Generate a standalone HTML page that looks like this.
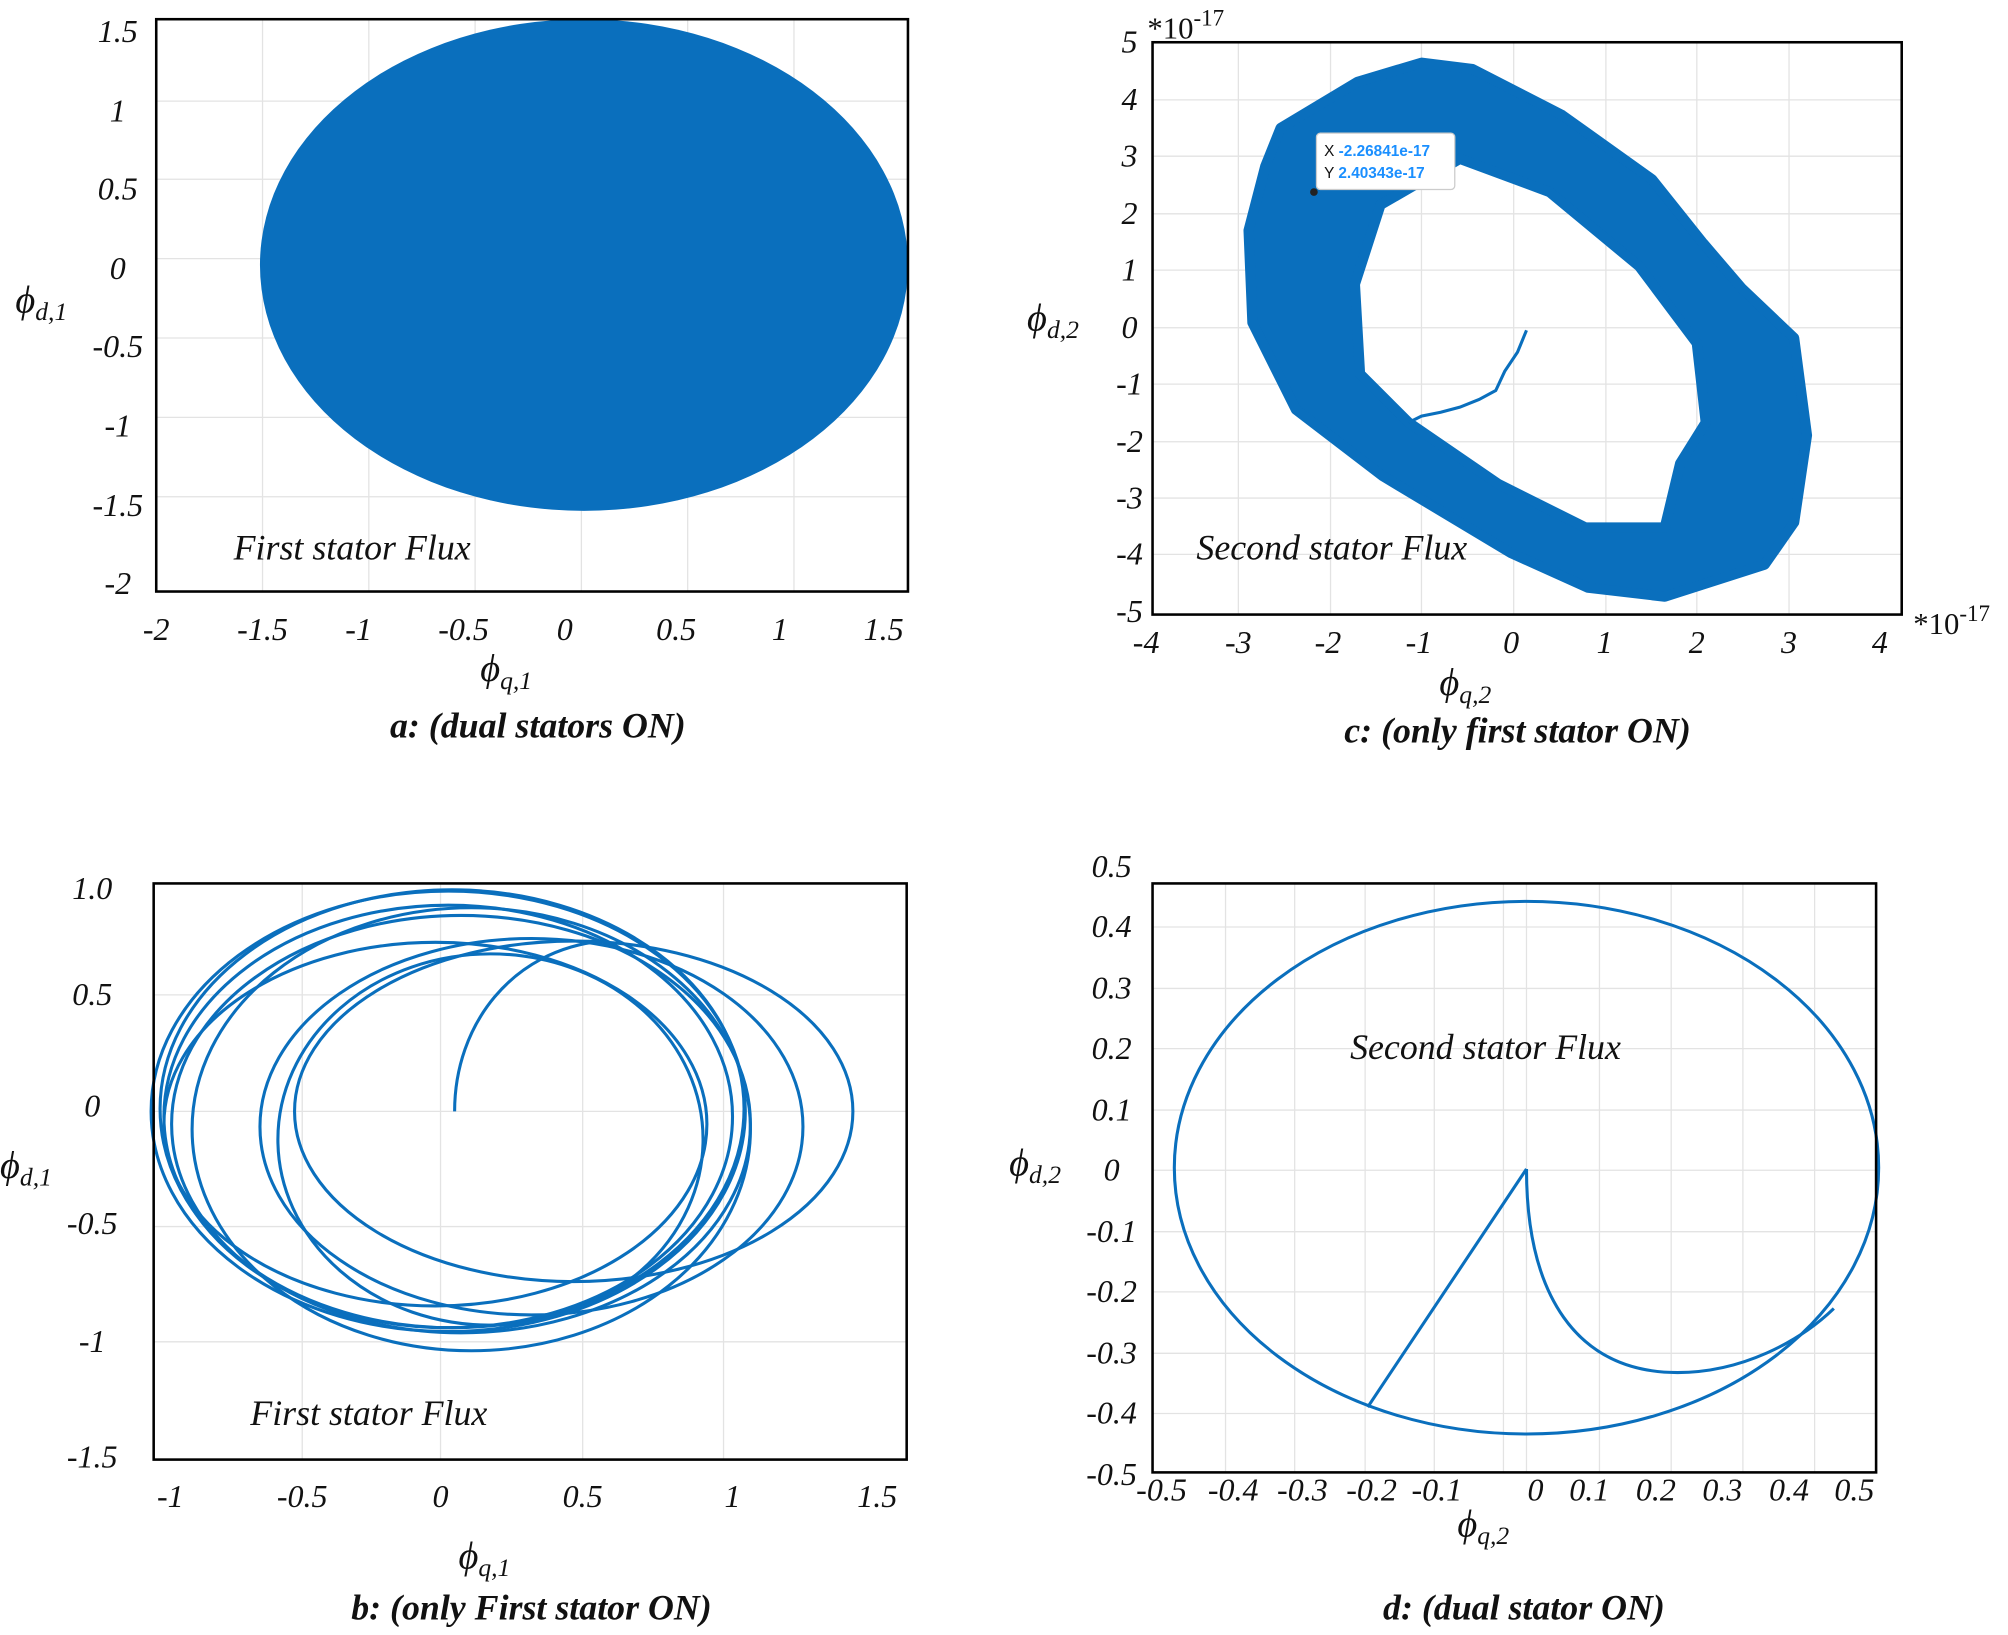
<!DOCTYPE html>
<html><head><meta charset="utf-8"><style>
html,body{margin:0;padding:0;background:#fff;}
svg{display:block}
text{font-family:"Liberation Serif",serif;font-style:italic;fill:#111;}
.t{font-size:25px;text-anchor:middle}
.g{stroke:#e3e3e3;stroke-width:1}
.f{fill:none;stroke:#000;stroke-width:2}
.c{fill:none;stroke:#0a6fbd;stroke-width:2.4}
.cap{font-size:28px;font-weight:bold}
</style></head><body>
<svg width="2008" height="1635" viewBox="0 0 1568 1277" preserveAspectRatio="none" xmlns="http://www.w3.org/2000/svg">
<rect width="1568" height="1277" fill="#fff"/>
<!-- Panel a -->
<g>
<g class="g">
<line x1="205" y1="15" x2="205" y2="462"/><line x1="288" y1="15" x2="288" y2="462"/><line x1="371" y1="15" x2="371" y2="462"/><line x1="454" y1="15" x2="454" y2="462"/><line x1="537" y1="15" x2="537" y2="462"/><line x1="620" y1="15" x2="620" y2="462"/>
<line x1="122" y1="79" x2="709" y2="79"/><line x1="122" y1="140" x2="709" y2="140"/><line x1="122" y1="202" x2="709" y2="202"/><line x1="122" y1="264" x2="709" y2="264"/><line x1="122" y1="326" x2="709" y2="326"/><line x1="122" y1="388" x2="709" y2="388"/>
</g>
<ellipse cx="456" cy="207" rx="253" ry="192" fill="#0a6fbd"/>
<rect x="122" y="15" width="587" height="447" class="f"/>
<text x="275" y="437" style="font-size:28px" text-anchor="middle">First stator Flux</text>
<g class="t">
<text x="92" y="33">1.5</text><text x="92" y="95">1</text><text x="92" y="156">0.5</text><text x="92" y="218">0</text><text x="92" y="279">-0.5</text><text x="92" y="341">-1</text><text x="92" y="403">-1.5</text><text x="92" y="464">-2</text>
<text x="122" y="500">-2</text><text x="205" y="500">-1.5</text><text x="280" y="500">-1</text><text x="362" y="500">-0.5</text><text x="441" y="500">0</text><text x="528" y="500">0.5</text><text x="609" y="500">1</text><text x="690" y="500">1.5</text>
</g>
<text x="12" y="244" style="font-size:30px">ϕ<tspan style="font-size:20px" dy="6">d,1</tspan></text>
<text x="375" y="532" style="font-size:30px">ϕ<tspan style="font-size:20px" dy="6">q,1</tspan></text>
<text x="420" y="576" class="cap" text-anchor="middle">a:  (dual stators ON)</text>
</g>
<!-- Panel c -->
<g>
<g class="g">
<line x1="967" y1="33" x2="967" y2="480"/><line x1="1039" y1="33" x2="1039" y2="480"/><line x1="1110" y1="33" x2="1110" y2="480"/><line x1="1182" y1="33" x2="1182" y2="480"/><line x1="1254" y1="33" x2="1254" y2="480"/><line x1="1325" y1="33" x2="1325" y2="480"/><line x1="1397" y1="33" x2="1397" y2="480"/>
<line x1="900" y1="78" x2="1485" y2="78"/><line x1="900" y1="122" x2="1485" y2="122"/><line x1="900" y1="167" x2="1485" y2="167"/><line x1="900" y1="211" x2="1485" y2="211"/><line x1="900" y1="256" x2="1485" y2="256"/><line x1="900" y1="300" x2="1485" y2="300"/><line x1="900" y1="345" x2="1485" y2="345"/><line x1="900" y1="389" x2="1485" y2="389"/><line x1="900" y1="433" x2="1485" y2="433"/>
</g>
<path fill="#0a6fbd" fill-rule="evenodd" stroke="#0a6fbd" stroke-width="8" stroke-linejoin="round" d="M1000,100 L1060,64 L1110,49 L1150,54 L1220,90 L1290,140 L1330,190 L1360,225 L1401,264 L1411,340 L1401,408 L1378,441 L1300,466 L1240,459 L1180,432 L1080,372 L1012,320 L978,252 L975,180 L988,130 Z M1078,160 L1140,124 L1210,150 L1280,208 L1325,268 L1332,330 L1312,362 L1300,412 L1238,412 L1170,378 L1100,330 L1062,292 L1058,222 Z"/>
<path class="c" stroke-width="2" d="M1192,258 L1185,275 L1175,290 L1168,305 L1155,312 L1140,318 L1125,322 L1110,325 L1100,330"/>
<rect x="1028" y="104" width="108" height="44" rx="3" fill="#fff" stroke="#ccc"/>
<text x="1034" y="122" style="font-family:'Liberation Sans',sans-serif;font-style:normal;font-size:12px">X <tspan fill="#1a8fff" font-weight="bold">-2.26841e-17</tspan></text>
<text x="1034" y="139" style="font-family:'Liberation Sans',sans-serif;font-style:normal;font-size:12px">Y <tspan fill="#1a8fff" font-weight="bold">2.40343e-17</tspan></text>
<circle cx="1026" cy="150" r="3" fill="#222"/>
<rect x="900" y="33" width="585" height="447" class="f"/>
<text x="1040" y="437" style="font-size:28px" text-anchor="middle">Second stator Flux</text>
<g class="t">
<text x="882" y="41">5</text><text x="882" y="86">4</text><text x="882" y="130">3</text><text x="882" y="175">2</text><text x="882" y="219">1</text><text x="882" y="264">0</text><text x="882" y="308">-1</text><text x="882" y="353">-2</text><text x="882" y="397">-3</text><text x="882" y="441">-4</text><text x="882" y="486">-5</text>
<text x="895" y="510">-4</text><text x="967" y="510">-3</text><text x="1037" y="510">-2</text><text x="1108" y="510">-1</text><text x="1180" y="510">0</text><text x="1253" y="510">1</text><text x="1325" y="510">2</text><text x="1397" y="510">3</text><text x="1468" y="510">4</text>
</g>
<text x="896" y="30" style="font-size:24px;font-style:normal">*10<tspan dy="-10" style="font-size:18px">-17</tspan></text>
<text x="1494" y="495" style="font-size:24px;font-style:normal">*10<tspan dy="-10" style="font-size:18px">-17</tspan></text>
<text x="802" y="258" style="font-size:30px">ϕ<tspan style="font-size:20px" dy="6">d,2</tspan></text>
<text x="1124" y="543" style="font-size:30px">ϕ<tspan style="font-size:20px" dy="6">q,2</tspan></text>
<text x="1185" y="580" class="cap" text-anchor="middle">c: (only first stator ON)</text>
</g>
<!-- Panel b -->
<g>
<g class="g">
<line x1="236" y1="690" x2="236" y2="1140"/><line x1="344" y1="690" x2="344" y2="1140"/><line x1="455" y1="690" x2="455" y2="1140"/><line x1="565" y1="690" x2="565" y2="1140"/>
<line x1="120" y1="777" x2="708" y2="777"/><line x1="120" y1="868" x2="708" y2="868"/><line x1="120" y1="958" x2="708" y2="958"/><line x1="120" y1="1048" x2="708" y2="1048"/>
</g>
<g class="c">
<ellipse cx="353" cy="866" rx="228" ry="171"/>
<ellipse cx="350" cy="868" rx="232" ry="172"/>
<ellipse cx="350" cy="872" rx="222" ry="165"/>
<ellipse cx="360" cy="878" rx="226" ry="163"/>
<ellipse cx="368" cy="882" rx="218" ry="173"/>
<ellipse cx="448" cy="868" rx="218" ry="133"/>
<ellipse cx="415" cy="880" rx="212" ry="147"/>
<ellipse cx="383" cy="890" rx="166" ry="145"/>
<ellipse cx="340" cy="878" rx="212" ry="142"/>
<path d="M355,868 C355,800 400,742 470,735"/>
</g>
<rect x="120" y="690" width="588" height="450" class="f"/>
<text x="288" y="1113" style="font-size:28px" text-anchor="middle">First stator Flux</text>
<g class="t">
<text x="72" y="702">1.0</text><text x="72" y="785">0.5</text><text x="72" y="872">0</text><text x="72" y="964">-0.5</text><text x="72" y="1056">-1</text><text x="72" y="1146">-1.5</text>
<text x="133" y="1177">-1</text><text x="236" y="1177">-0.5</text><text x="344" y="1177">0</text><text x="455" y="1177">0.5</text><text x="572" y="1177">1</text><text x="685" y="1177">1.5</text>
</g>
<text x="0" y="920" style="font-size:30px">ϕ<tspan style="font-size:20px" dy="6">d,1</tspan></text>
<text x="358" y="1225" style="font-size:30px">ϕ<tspan style="font-size:20px" dy="6">q,1</tspan></text>
<text x="415" y="1265" class="cap" text-anchor="middle">b: (only First stator ON)</text>
</g>
<!-- Panel d -->
<g>
<g class="g">
<line x1="957" y1="690" x2="957" y2="1150"/><line x1="1011" y1="690" x2="1011" y2="1150"/><line x1="1066" y1="690" x2="1066" y2="1150"/><line x1="1120" y1="690" x2="1120" y2="1150"/><line x1="1174" y1="690" x2="1174" y2="1150"/><line x1="1192" y1="690" x2="1192" y2="1150"/><line x1="1249" y1="690" x2="1249" y2="1150"/><line x1="1305" y1="690" x2="1305" y2="1150"/><line x1="1361" y1="690" x2="1361" y2="1150"/><line x1="1417" y1="690" x2="1417" y2="1150"/>
<line x1="900" y1="724" x2="1465" y2="724"/><line x1="900" y1="772" x2="1465" y2="772"/><line x1="900" y1="819" x2="1465" y2="819"/><line x1="900" y1="867" x2="1465" y2="867"/><line x1="900" y1="914" x2="1465" y2="914"/><line x1="900" y1="962" x2="1465" y2="962"/><line x1="900" y1="1009" x2="1465" y2="1009"/><line x1="900" y1="1057" x2="1465" y2="1057"/><line x1="900" y1="1104" x2="1465" y2="1104"/>
</g>
<g class="c">
<ellipse cx="1192" cy="912" rx="275" ry="208"/>
<path d="M1192,913 C1192,1010 1230,1072 1310,1072 C1360,1072 1405,1048 1432,1022"/>
<path d="M1192,913 L1068,1099"/>
</g>
<rect x="900" y="690" width="565" height="460" class="f"/>
<text x="1160" y="827" style="font-size:28px" text-anchor="middle">Second stator Flux</text>
<g class="t">
<text x="868" y="685">0.5</text><text x="868" y="732">0.4</text><text x="868" y="780">0.3</text><text x="868" y="827">0.2</text><text x="868" y="875">0.1</text><text x="868" y="922">0</text><text x="868" y="970">-0.1</text><text x="868" y="1017">-0.2</text><text x="868" y="1065">-0.3</text><text x="868" y="1112">-0.4</text><text x="868" y="1160">-0.5</text>
<text x="907" y="1172">-0.5</text><text x="963" y="1172">-0.4</text><text x="1017" y="1172">-0.3</text><text x="1071" y="1172">-0.2</text><text x="1122" y="1172">-0.1</text><text x="1199" y="1172">0</text><text x="1241" y="1172">0.1</text><text x="1293" y="1172">0.2</text><text x="1345" y="1172">0.3</text><text x="1397" y="1172">0.4</text><text x="1448" y="1172">0.5</text>
</g>
<text x="788" y="918" style="font-size:30px">ϕ<tspan style="font-size:20px" dy="6">d,2</tspan></text>
<text x="1138" y="1200" style="font-size:30px">ϕ<tspan style="font-size:20px" dy="6">q,2</tspan></text>
<text x="1190" y="1265" class="cap" text-anchor="middle">d: (dual stator ON)</text>
</g>
</svg>
</body></html>
